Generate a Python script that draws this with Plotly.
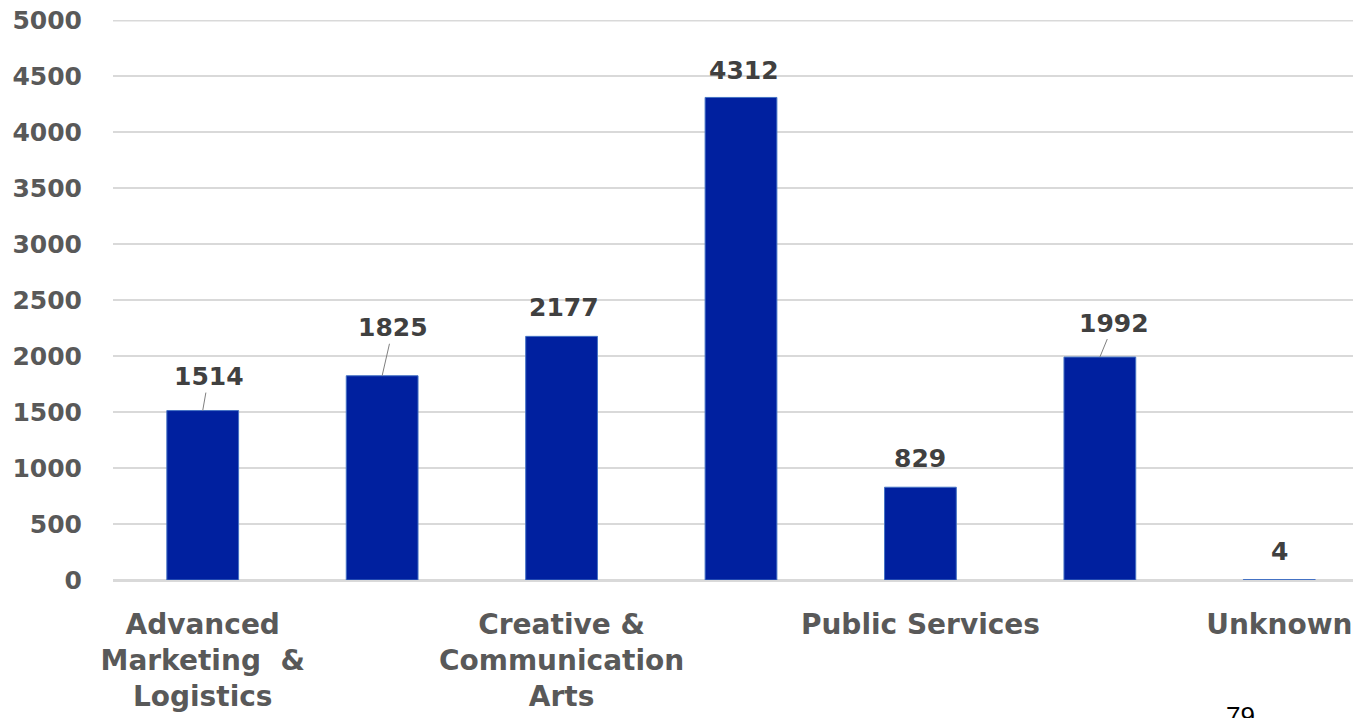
import plotly.graph_objects as go

categories = [
    "Advanced Marketing & Logistics",
    "Category 2",
    "Creative & Communication Arts",
    "Category 4",
    "Public Services",
    "Category 6",
    "Unknown",
]
values = [1514, 1825, 2177, 4312, 829, 1992, 4]
shown_ticks = [
    "Advanced Marketing & Logistics",
    "Creative & Communication Arts",
    "Public Services",
    "Unknown",
]
tick_text = [
    "<b>Advanced<br>Marketing  &amp;<br>Logistics</b>",
    "<b>Creative &amp;<br>Communication<br>Arts</b>",
    "<b>Public Services</b>",
    "<b>Unknown</b>",
]
y_ticks = [0, 500, 1000, 1500, 2000, 2500, 3000, 3500, 4000, 4500, 5000]
y_tick_text = [f"<b>{t}</b>" for t in y_ticks]

# label offsets (px) and whether a leader line is drawn
label_offsets = [(6, -34, True), (11, -48, True), (2, -29, False), (3, -27, False),
                 (0, -29, False), (14, -34, True), (0, -28, False)]

FONT = "DejaVu Sans"

fig = go.Figure()
fig.add_trace(go.Bar(
    x=categories, y=values, width=0.4,
    marker=dict(color="#00209F", line=dict(color="#4472C4", width=1)),
    hoverinfo="skip",
))

for c, v, (ax, ay, leader) in zip(categories, values, label_offsets):
    fig.add_annotation(
        x=c, y=v, xref="x", yref="y", text=f"<b>{v}</b>",
        showarrow=leader, arrowhead=0, arrowwidth=1, arrowcolor="#7F7F7F",
        ax=ax, ay=ay, standoff=0, startstandoff=0,
        xshift=0 if leader else ax, yshift=0 if leader else -ay,
        font=dict(family=FONT, size=25, color="#404040"),
    )

# top gridline (at the range end, which plotly skips)
fig.add_shape(
    type="line", xref="paper", yref="y", x0=0, x1=1, y0=y_ticks[-1], y1=y_ticks[-1],
    line=dict(color="#D9D9D9", width=2), layer="below",
)

# page number at the bottom edge (page has an 8px body margin)
fig.add_annotation(
    x=(1240 - 113) / 1256, y=(580 - 716) / 560, xref="paper", yref="paper",
    text="79", showarrow=False, xanchor="center", yanchor="middle",
    font=dict(family="Liberation Sans", size=26, color="#000000"),
)

fig.update_layout(
    width=1361, height=718,
    margin=dict(l=105, r=0, t=12, b=146),
    plot_bgcolor="white", paper_bgcolor="white",
    showlegend=False,
    bargap=0.6,
    xaxis=dict(
        type="category", categoryorder="array", categoryarray=categories,
        range=[-0.5, 6.5], automargin=False,
        tickmode="array", tickvals=shown_ticks, ticktext=tick_text,
        tickfont=dict(family=FONT, size=28, color="#595959"),
        showgrid=False, showline=True, linecolor="#D9D9D9", linewidth=2,
        ticks="", ticklabelstandoff=18, ticklabeloverflow="allow",
    ),
    yaxis=dict(
        range=[0, 5004], tickvals=y_ticks, ticktext=y_tick_text, automargin=False,
        tickfont=dict(family=FONT, size=25, color="#595959"),
        showgrid=True, gridcolor="#D9D9D9", gridwidth=2,
        zeroline=True, zerolinecolor="#D9D9D9", zerolinewidth=2,
        ticks="", ticklabelstandoff=30, showline=False, ticklabeloverflow="allow",
    ),
)

fig.write_html("out.html")
